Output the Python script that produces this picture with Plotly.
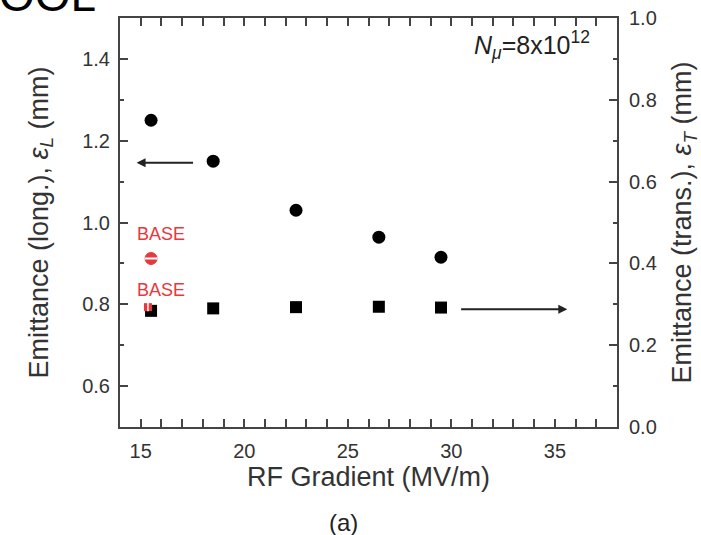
import plotly.graph_objects as go

# Data
gradient = [15.5, 18.5, 22.5, 26.5, 29.5]
emit_long = [1.25, 1.15, 1.03, 0.964, 0.915]
emit_trans = [0.284, 0.290, 0.293, 0.294, 0.292]
base_x = [15.5]
base_long = [0.912]
base_trans_x = [15.35]
base_trans = [0.293]

FONT = "Liberation Sans, Arial, sans-serif"
AX = "#444444"
RED = "#e8383d"

fig = go.Figure()

fig.add_trace(go.Scatter(x=gradient, y=emit_long, mode="markers",
                         marker=dict(symbol="circle", size=13, color="black"),
                         showlegend=False))
fig.add_trace(go.Scatter(x=gradient, y=emit_trans, mode="markers", yaxis="y2",
                         marker=dict(symbol="square", size=12, color="black"),
                         showlegend=False))
# BASE longitudinal (half-filled red circle)
fig.add_trace(go.Scatter(x=base_x, y=base_long, mode="markers",
                         marker=dict(symbol="circle", size=12, color=RED,
                                     line=dict(color=RED, width=1)),
                         showlegend=False))
fig.add_trace(go.Scatter(x=base_x, y=base_long, mode="markers",
                         marker=dict(symbol="line-ew", size=9,
                                     line=dict(color="white", width=2)),
                         showlegend=False))
# BASE transverse (red square)
fig.add_trace(go.Scatter(x=base_trans_x, y=base_trans, mode="markers", yaxis="y2",
                         marker=dict(symbol="square", size=8, color=RED),
                         showlegend=False))
fig.add_trace(go.Scatter(x=base_trans_x, y=base_trans, mode="markers", yaxis="y2",
                         marker=dict(symbol="line-ns", size=6,
                                     line=dict(color="white", width=1.5)),
                         showlegend=False))

W, H = 701, 535
L, R, T, B = 119.6, 84, 17.8, 108
pw, ph = W - L - R, H - T - B
def px2paper(xp, yp):
    return (xp - L) / pw, 1 - (yp - T) / ph

a_x, a_y = px2paper(343, 523)
o_x, o_y = px2paper(-3, 8)

annotations = [
    dict(x=base_x[0], y=base_long[0], xref="x", yref="y", text="BASE",
         showarrow=False, yshift=24, xshift=10, font=dict(family=FONT, size=18, color=RED)),
    dict(x=base_x[0], y=emit_trans[0], xref="x", yref="y2", text="BASE",
         showarrow=False, yshift=21, xshift=10, font=dict(family=FONT, size=18, color=RED)),
    # arrows
    dict(x=14.8, y=1.146, ax=17.6, ay=1.146, xref="x", yref="y", axref="x", ayref="y",
         text="", showarrow=True, arrowhead=2, arrowsize=0.9, arrowwidth=2, arrowcolor="#222"),
    dict(x=35.6, y=0.288, ax=30.4, ay=0.288, xref="x", yref="y2", axref="x", ayref="y2",
         text="", showarrow=True, arrowhead=2, arrowsize=0.9, arrowwidth=2, arrowcolor="#222"),
    # N_mu
    dict(x=0.95, y=0.934, xref="paper", yref="paper", xanchor="right", yanchor="middle",
         text="<i>N</i><sub><i>μ</i></sub>=8x10<sup>12</sup>", showarrow=False,
         font=dict(family=FONT, size=25, color="#222")),
    # (a)
    dict(x=a_x, y=a_y, xref="paper", yref="paper", yanchor="middle", text="(a)", showarrow=False,
         font=dict(family=FONT, size=24, color="#222")),
    # clipped slide text at top-left
    dict(x=o_x, y=o_y, xref="paper", yref="paper", xanchor="left", yanchor="bottom",
         yshift=-15, text="OOL", showarrow=False,
         font=dict(family=FONT, size=46, color="black")),
]

fig.update_layout(
    width=W, height=H,
    margin=dict(l=L, r=R, t=T, b=B, pad=0, autoexpand=False),
    paper_bgcolor="white", plot_bgcolor="white",
    font=dict(family=FONT, color="#333"),
    annotations=annotations,
    xaxis=dict(range=[14, 38], dtick=5, tick0=0, ticks="inside", ticklen=8, tickwidth=1.5,
               tickcolor=AX, showline=True, linecolor=AX, linewidth=2, mirror="allticks",
               showgrid=False, zeroline=False, automargin=False,
               minor=dict(ticks="inside", ticklen=4, dtick=1, tickcolor=AX, tickwidth=1.5, showgrid=False),
               tickfont=dict(family=FONT, size=20, color="#333"), ticklabelstandoff=5,
               title=dict(text="RF Gradient (MV/m)", standoff=6,
                          font=dict(family=FONT, size=27, color="#333"))),
    yaxis=dict(range=[0.5, 1.5], dtick=0.2, tick0=0, tickformat=".1f", ticks="inside",
               ticklen=8, tickwidth=1.5, tickcolor=AX, showline=True, linecolor=AX, linewidth=2,
               mirror=True, showgrid=False, zeroline=False, automargin=False,
               minor=dict(ticks="inside", ticklen=4, dtick=0.1, tickcolor=AX, tickwidth=1.5, showgrid=False),
               tickfont=dict(family=FONT, size=20, color="#333"), ticklabelstandoff=4,
               title=dict(text="Emittance (long.), <i>ε<sub>L</sub></i> (mm)", standoff=26,
                          font=dict(family=FONT, size=27, color="#333"))),
    yaxis2=dict(range=[0, 1], dtick=0.2, tick0=0, tickformat=".1f", ticks="inside",
                ticklen=8, tickwidth=1.5, tickcolor=AX, showline=True, linecolor=AX, linewidth=2,
                overlaying="y", side="right", showgrid=False, zeroline=False, automargin=False,
                minor=dict(ticks="inside", ticklen=4, dtick=0.1, tickcolor=AX, tickwidth=1.5, showgrid=False),
                tickfont=dict(family=FONT, size=20, color="#333"), ticklabelstandoff=6,
                title=dict(text="Emittance (trans.), <i>ε<sub>T</sub></i> (mm)", standoff=30,
                           font=dict(family=FONT, size=27, color="#333"))),
)

fig.write_html("out.html")
